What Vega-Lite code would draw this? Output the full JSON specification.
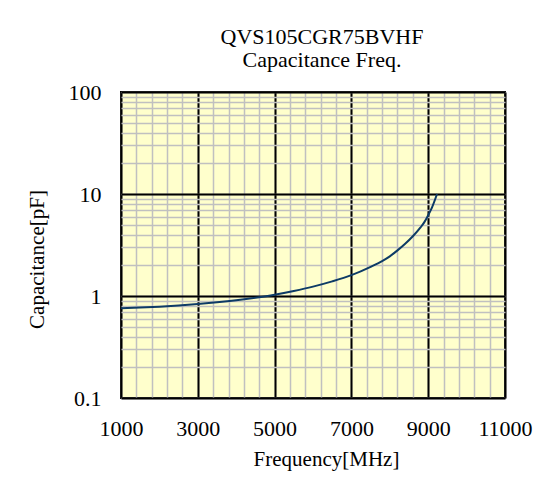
{
  "$schema": "https://vega.github.io/schema/vega-lite/v6.json",
  "width": 384,
  "height": 306,
  "autosize": "none",
  "padding": {"left": 121, "top": 92, "right": 32, "bottom": 85},
  "background": "white",
  "title": {
    "text": ["QVS105CGR75BVHF", "Capacitance Freq."],
    "font": "Liberation Serif",
    "fontSize": 22,
    "fontWeight": "normal",
    "color": "black",
    "lineHeight": 23,
    "anchor": "middle",
    "dx": 9,
    "baseline": "alphabetic",
    "offset": -8
  },
  "config": {
    "view": {"fill": "#ffffcc", "stroke": "black", "strokeWidth": 2},
    "axis": {
      "labelFont": "Liberation Serif",
      "labelFontSize": 22,
      "labelColor": "black",
      "titleFont": "Liberation Serif",
      "titleFontSize": 21,
      "titleFontWeight": "normal",
      "titleColor": "black",
      "domain": false,
      "ticks": false,
      "tickSize": 0
    }
  },
  "data": {
    "values": [
      {"freq": 1000, "cap": 0.76},
      {"freq": 1500, "cap": 0.77},
      {"freq": 2000, "cap": 0.786},
      {"freq": 2500, "cap": 0.807},
      {"freq": 3000, "cap": 0.834},
      {"freq": 3500, "cap": 0.868},
      {"freq": 4000, "cap": 0.91},
      {"freq": 4500, "cap": 0.963},
      {"freq": 5000, "cap": 1.03},
      {"freq": 5500, "cap": 1.12},
      {"freq": 6000, "cap": 1.235},
      {"freq": 6500, "cap": 1.39},
      {"freq": 7000, "cap": 1.6},
      {"freq": 7500, "cap": 1.93},
      {"freq": 7800, "cap": 2.2},
      {"freq": 8000, "cap": 2.45},
      {"freq": 8200, "cap": 2.8},
      {"freq": 8400, "cap": 3.25},
      {"freq": 8600, "cap": 3.85},
      {"freq": 8800, "cap": 4.7},
      {"freq": 8900, "cap": 5.3},
      {"freq": 9000, "cap": 6.2},
      {"freq": 9100, "cap": 7.4},
      {"freq": 9230, "cap": 10}
    ]
  },
  "layer": [
    {
      "mark": {"type": "line", "opacity": 0},
      "encoding": {
        "x": {
          "field": "freq",
          "type": "quantitative",
          "scale": {"domain": [1000, 11000], "nice": false, "zero": false},
          "axis": {
            "orient": "bottom",
            "title": null,
            "labels": false,
            "grid": true,
            "gridColor": "#c0c0c0",
            "gridWidth": 1.5,
            "gridOpacity": 1,
            "values": [1000, 1400, 1800, 2200, 2600, 3000, 3400, 3800, 4200, 4600, 5000, 5400, 5800, 6200, 6600, 7000, 7400, 7800, 8200, 8600, 9000, 9400, 9800, 10200, 10600, 11000]
          }
        },
        "y": {
          "field": "cap",
          "type": "quantitative",
          "scale": {"type": "log", "domain": [0.1, 100], "nice": false},
          "axis": {
            "orient": "left",
            "title": null,
            "labels": false,
            "grid": true,
            "gridColor": "#c0c0c0",
            "gridWidth": 1.5,
            "gridOpacity": 1,
            "values": [0.1, 0.2, 0.3, 0.4, 0.5, 0.6, 0.7, 0.8, 0.9, 1, 2, 3, 4, 5, 6, 7, 8, 9, 10, 20, 30, 40, 50, 60, 70, 80, 90, 100]
          }
        }
      }
    },
    {
      "mark": {"type": "line", "color": "#0d3b66", "strokeWidth": 2, "interpolate": "monotone"},
      "encoding": {
        "x": {
          "field": "freq",
          "type": "quantitative",
          "axis": {
            "orient": "bottom",
            "title": "Frequency[MHz]",
            "titleX": 205,
            "titleY": 67,
            "titleBaseline": "alphabetic",
            "titleAlign": "center",
            "format": "d",
            "labelBaseline": "alphabetic",
            "labelPadding": 37,
            "labelFlush": false,
            "labelOverlap": false,
            "grid": true,
            "gridColor": "black",
            "gridWidth": 2,
            "gridOpacity": 1,
            "values": [1000, 3000, 5000, 7000, 9000, 11000]
          }
        },
        "y": {
          "field": "cap",
          "type": "quantitative",
          "axis": {
            "orient": "left",
            "title": "Capacitance[pF]",
            "titleX": -78,
            "titleY": 167,
            "titleAngle": -90,
            "titleBaseline": "alphabetic",
            "titleAlign": "center",
            "format": "~g",
            "labelPadding": 20,
            "labelBaseline": "middle",
            "labelFlush": false,
            "labelOverlap": false,
            "grid": true,
            "gridColor": "black",
            "gridWidth": 2,
            "gridOpacity": 1,
            "values": [0.1, 1, 10, 100]
          }
        }
      }
    }
  ],
  "resolve": {"axis": {"x": "independent", "y": "independent"}}
}
